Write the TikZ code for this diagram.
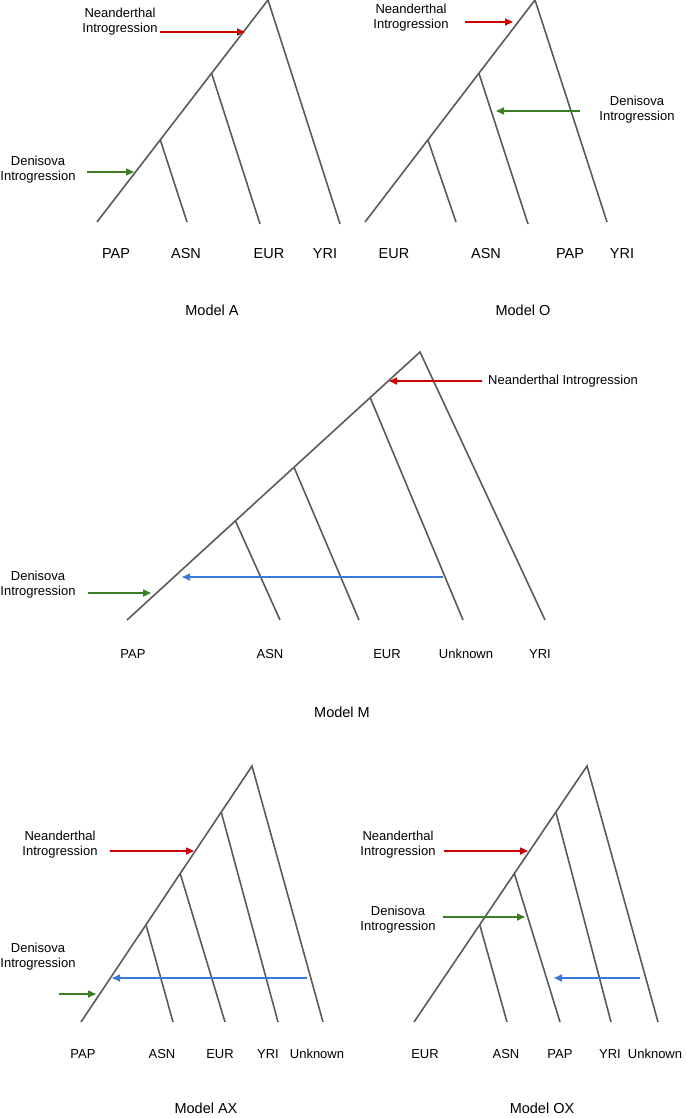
\documentclass[tikz,border=0pt]{standalone}
\usepackage{fontspec}
\setmainfont{Liberation Sans}
\usetikzlibrary{arrows.meta,calc}
\definecolor{ln}{HTML}{5A5A5A}
\definecolor{nred}{HTML}{CC0000}
\definecolor{dgreen}{HTML}{3A7D22}
\definecolor{mblue}{HTML}{3C78D8}
\begin{document}
\begin{tikzpicture}[x=1pt,y=-1pt,
  br/.style={draw=ln,line width=1.6pt},
  lab/.style={font=\fontsize{14.5}{16}\selectfont},
  txt/.style={font=\fontsize{13}{15}\selectfont,align=center},
  ar/.style={line width=1.6pt,-{Triangle[length=8pt,width=7pt]}}]
\useasboundingbox (0,0) rectangle (685,1118);
% Model A
\coordinate (a0) at (268,0); \coordinate (a1) at (97,222); \coordinate (a2) at (340,224);
\coordinate (ab1) at ($(a1)!0.67!(a0)$); \coordinate (ae1) at (260,224);
\coordinate (ab2) at ($(a1)!0.37!(a0)$); \coordinate (ae2) at (187,222);
\draw[br] (a1)--(a0)--(a2); \draw[br] (ab1)--(ae1); \draw[br] (ab2)--(ae2);
\node[lab] (la1) at (116,254) {PAP}; \node[lab] (la2) at (186,254) {ASN};
\node[lab] (la3) at (269,254) {EUR}; \node[lab] (la4) at (325,254) {YRI};
\node[lab] (ma) at (212,310) {Model A};
\node[txt] (nA) at (120,22) {Neanderthal\\Introgression};
\coordinate (nAs) at (160,32); \coordinate (nAe) at (245,32);
\draw[ar,nred] (nAs)--(nAe);
\node[txt] (dA) at (38,170) {Denisova\\Introgression};
\coordinate (dAs) at (87,172); \coordinate (dAe) at (134,172);
\draw[ar,dgreen] (dAs)--(dAe);
% Model O
\coordinate (o0) at (535,0); \coordinate (o1) at (365,222); \coordinate (o2) at (607,222);
\coordinate (ob1) at ($(o1)!0.67!(o0)$); \coordinate (oe1) at (528,224);
\coordinate (ob2) at ($(o1)!0.37!(o0)$); \coordinate (oe2) at (456,222);
\draw[br] (o1)--(o0)--(o2); \draw[br] (ob1)--(oe1); \draw[br] (ob2)--(oe2);
\node[lab] (lo1) at (394,254) {EUR}; \node[lab] (lo2) at (486,254) {ASN};
\node[lab] (lo3) at (570,254) {PAP}; \node[lab] (lo4) at (622,254) {YRI};
\node[lab] (mo) at (523,310) {Model O};
\node[txt] (nO) at (411,18) {Neanderthal\\Introgression};
\coordinate (nOs) at (465,22); \coordinate (nOe) at (513,22);
\draw[ar,nred] (nOs)--(nOe);
\node[txt] (dO) at (637,110) {Denisova\\Introgression};
\coordinate (dOs) at (580,111); \coordinate (dOe) at (496,111);
\draw[ar,dgreen] (dOs)--(dOe);
% Model M
\coordinate (m0) at (420,352); \coordinate (m1) at (127,620); \coordinate (m2) at (545,620);
\coordinate (mb1) at ($(m1)!0.83!(m0)$); \coordinate (me1) at (463,620);
\coordinate (mb2) at ($(m1)!0.57!(m0)$); \coordinate (me2) at (359,620);
\coordinate (mb3) at ($(m1)!0.37!(m0)$); \coordinate (me3) at (280,620);
\draw[br] (m1)--(m0)--(m2); \draw[br] (mb1)--(me1); \draw[br] (mb2)--(me2); \draw[br] (mb3)--(me3);
\node[txt] (lm1) at (133,654) {PAP}; \node[txt] (lm2) at (270,654) {ASN};
\node[txt] (lm3) at (387,654) {EUR}; \node[txt] (lm4) at (466,654) {Unknown};
\node[txt] (lm5) at (540,654) {YRI};
\node[lab] (mm) at (342,712) {Model M};
\node[txt] (nM) at (563,381) {Neanderthal Introgression};
\coordinate (nMs) at (482,381); \coordinate (nMe) at (389,381);
\draw[ar,nred] (nMs)--(nMe);
\coordinate (bMs) at (443,577); \coordinate (bMe) at (182,577);
\draw[ar,mblue] (bMs)--(bMe);
\node[txt] (dM) at (38,585) {Denisova\\Introgression};
\coordinate (dMs) at (88,593); \coordinate (dMe) at (151,593);
\draw[ar,dgreen] (dMs)--(dMe);
% Model AX
\coordinate (x0) at (252,766); \coordinate (x1) at (81,1022); \coordinate (x2) at (323,1022);
\coordinate (xb1) at ($(x1)!0.82!(x0)$); \coordinate (xe1) at (278,1022);
\coordinate (xb2) at ($(x1)!0.58!(x0)$); \coordinate (xe2) at (225,1022);
\coordinate (xb3) at ($(x1)!0.38!(x0)$); \coordinate (xe3) at (173,1022);
\draw[br] (x1)--(x0)--(x2); \draw[br] (xb1)--(xe1); \draw[br] (xb2)--(xe2); \draw[br] (xb3)--(xe3);
\node[txt] (lx1) at (83,1054) {PAP}; \node[txt] (lx2) at (162,1054) {ASN};
\node[txt] (lx3) at (220,1054) {EUR}; \node[txt] (lx4) at (268,1054) {YRI};
\node[txt] (lx5) at (317,1054) {Unknown};
\node[lab] (mx) at (206,1108) {Model AX};
\node[txt] (nX) at (60,845) {Neanderthal\\Introgression};
\coordinate (nXs) at (110,851); \coordinate (nXe) at (194,851);
\draw[ar,nred] (nXs)--(nXe);
\coordinate (bXs) at (307,978); \coordinate (bXe) at (112,978);
\draw[ar,mblue] (bXs)--(bXe);
\node[txt] (dX) at (38,957) {Denisova\\Introgression};
\coordinate (dXs) at (59,994); \coordinate (dXe) at (96,994);
\draw[ar,dgreen] (dXs)--(dXe);
% Model OX
\coordinate (y0) at (587,766); \coordinate (y1) at (414,1022); \coordinate (y2) at (658,1022);
\coordinate (yb1) at ($(y1)!0.82!(y0)$); \coordinate (ye1) at (611,1022);
\coordinate (yb2) at ($(y1)!0.58!(y0)$); \coordinate (ye2) at (560,1022);
\coordinate (yb3) at ($(y1)!0.38!(y0)$); \coordinate (ye3) at (507,1022);
\draw[br] (y1)--(y0)--(y2); \draw[br] (yb1)--(ye1); \draw[br] (yb2)--(ye2); \draw[br] (yb3)--(ye3);
\node[txt] (ly1) at (425,1054) {EUR}; \node[txt] (ly2) at (506,1054) {ASN};
\node[txt] (ly3) at (560,1054) {PAP}; \node[txt] (ly4) at (610,1054) {YRI};
\node[txt] (ly5) at (655,1054) {Unknown};
\node[lab] (my) at (542,1108) {Model OX};
\node[txt] (nY) at (398,845) {Neanderthal\\Introgression};
\coordinate (nYs) at (444,851); \coordinate (nYe) at (528,851);
\draw[ar,nred] (nYs)--(nYe);
\node[txt] (dY) at (398,920) {Denisova\\Introgression};
\coordinate (dYs) at (443,917); \coordinate (dYe) at (525,917);
\draw[ar,dgreen] (dYs)--(dYe);
\coordinate (bYs) at (640,978); \coordinate (bYe) at (554,978);
\draw[ar,mblue] (bYs)--(bYe);
\end{tikzpicture}
\end{document}
